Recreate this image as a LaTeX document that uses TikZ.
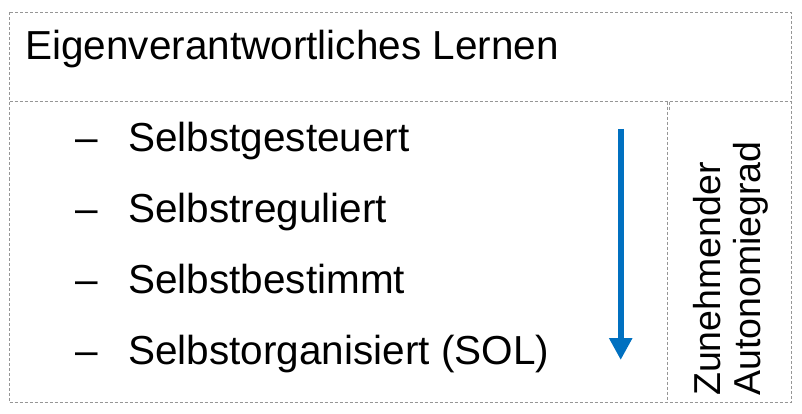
\documentclass[tikz,border=0pt]{standalone}
\usepackage{fontspec}
\setmainfont{Liberation Sans}
\usetikzlibrary{arrows.meta}
\definecolor{framegray}{RGB}{150,150,150}
\definecolor{arrowblue}{RGB}{0,112,192}
\tikzset{
  frame/.style={draw=framegray, line width=1pt, dash pattern=on 3pt off 2pt},
  bigtext/.style={anchor=base west, inner sep=0pt, font=\fontsize{40.5}{48}\selectfont},
  sidetext/.style={anchor=base west, inner sep=0pt, rotate=90, font=\fontsize{37.5}{44}\selectfont},
  autoarrow/.style={draw=arrowblue, line width=6pt, -{Triangle[width=22pt,length=22pt]}}
}
\begin{document}
\begin{tikzpicture}[x=1pt,y=-1pt]
\useasboundingbox (0,0) rectangle (802,414);
% frame
\coordinate (tl) at (9.5,12.5);
\coordinate (br) at (791.3,402.3);
\coordinate (ml) at (9.5,101.7);
\coordinate (mr) at (791.3,101.7);
\coordinate (vt) at (667.3,101.7);
\coordinate (vb) at (667.3,402.3);
\coordinate (tt) at (669.5,101.7);
\coordinate (tb) at (669.5,111);
\draw[frame] (tl) rectangle (br);
\draw[frame] (ml) -- (mr);
\draw[frame] (vt) -- (vb);
\draw[frame] (tt) -- (tb);
% title
\node[bigtext] (title) at (25,60) {Eigenverantwortliches Lernen};
% items
\node[bigtext] (d1) at (75,152) {–};
\node[bigtext] (i1) at (128,152) {Selbstgesteuert};
\node[bigtext] (d2) at (75,222.7) {–};
\node[bigtext] (i2) at (128,222.7) {Selbstreguliert};
\node[bigtext] (d3) at (75,293.4) {–};
\node[bigtext] (i3) at (128,293.4) {Selbstbestimmt};
\node[bigtext] (d4) at (75,364) {–};
\node[bigtext] (i4) at (128,364) {Selbstorganisiert (SOL)};
% arrow
\coordinate (atop) at (620.7,129);
\coordinate (abot) at (620.7,360);
\draw[autoarrow] (atop) -- (abot);
% side text
\node[sidetext] (s1) at (720,396) {Zunehmender};
\node[sidetext] (s2) at (760,396) {Autonomiegrad};
\end{tikzpicture}
\end{document}
